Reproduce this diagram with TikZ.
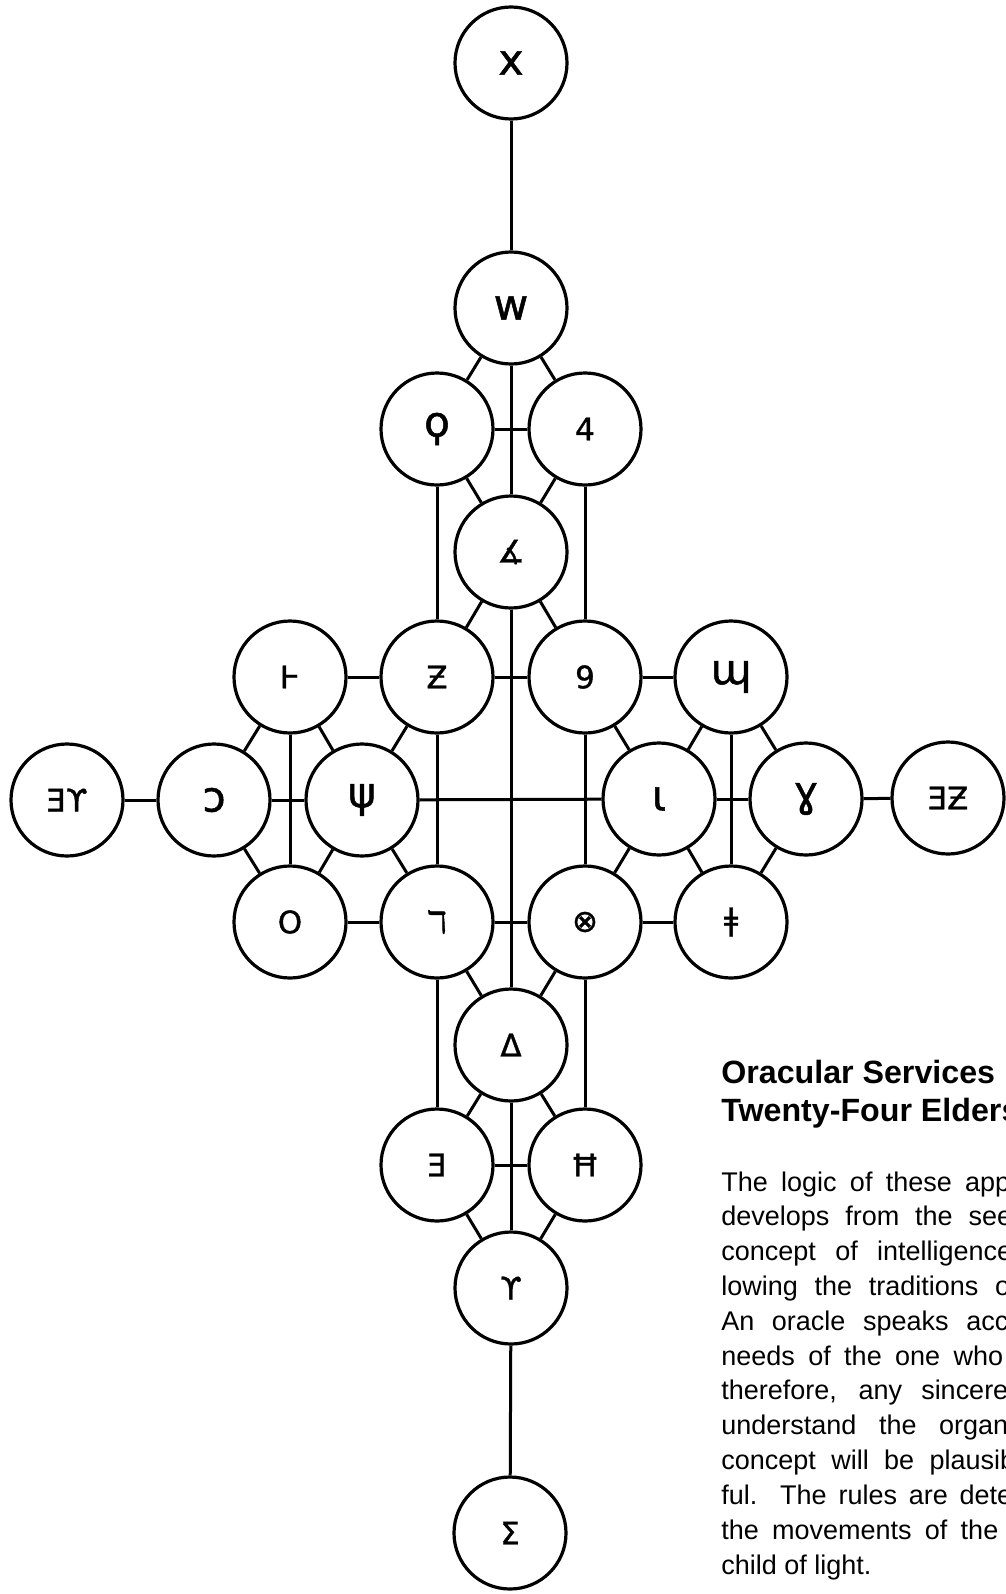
\documentclass[tikz,border=0pt]{standalone}
\usepackage{fontspec}
\newfontfamily\glyphfont{DejaVu Sans}[FakeBold=1.2]
\newfontfamily\arialfont{Liberation Sans}
\newcommand\lc[1]{{\fontsize{30}{32}\selectfont#1}} % small letters drawn larger
\begin{document}
\begin{tikzpicture}[x=0.25mm,y=-0.25mm,
        elder/.style={draw, circle, minimum size=28mm, inner sep=0pt, line width=0.8mm,
            font=\glyphfont\fontsize{22}{24}\selectfont},
        link/.style={line width=0.75mm},
        titletext/.style={anchor=base west, inner sep=0pt, font=\arialfont\bfseries\fontsize{22.9}{26}\selectfont},
        bodytext/.style={anchor=base west, inner sep=0pt, font=\arialfont\fontsize{19.2}{22}\selectfont}]
        \useasboundingbox (0,0) rectangle (1005,1594); % page of the reference

        % the twenty-four circles (name/x/y/letter)
        \foreach \name/\x/\y/\g in {tau/511/63/\lc{x}, shin/511/308/\lc{w},
            qof/437/429/\lc{ϙ}, resh/585/429/4, aleph/511/552/∡,
            tsade/290/677/Ͱ, zayin/437/677/Ƶ, bet/585/677/9, mem/731/677/\lc{ɰ},
            hw/67/800/Ǝϒ, pe/214/800/\lc{ɔ}, kaf/362/800/\lc{ψ}, lamed/659/799/\lc{ɩ},
            nun/806/799/\lc{ɣ}, hz/948/798/ƎƵ,
            ayin/290/922/O, gimel/437/922/ℸ, tet/585/922/⊗, samekh/731/922/ǂ,
            dalet/511/1045/Δ, he/437/1165/Ǝ, het/585/1165/Ħ, waw/511/1288/ϒ, yod/510/1533/Σ}{
            \node[elder] (\name) at (\x,\y) {\g};
        }

        % connectors between neighbouring circles
        \foreach \a/\b in {tau/shin, shin/aleph, aleph/dalet, dalet/waw, waw/yod,   % middle column
            shin/qof, shin/resh, qof/aleph, resh/aleph, qof/resh,
            qof/zayin, resh/bet, aleph/zayin, aleph/bet,
            tsade/zayin, zayin/bet, bet/mem,
            tsade/pe, tsade/kaf, tsade/ayin, pe/ayin, kaf/ayin, hw/pe, pe/kaf,
            kaf/zayin, kaf/gimel, kaf/lamed,
            mem/lamed, mem/nun, mem/samekh, lamed/samekh, nun/samekh, lamed/nun, nun/hz,
            lamed/bet, lamed/tet,
            zayin/gimel, bet/tet, ayin/gimel, gimel/tet, tet/samekh,
            gimel/dalet, tet/dalet, gimel/he, tet/het,
            dalet/he, dalet/het, he/het, he/waw, het/waw}{
            \draw[link] (\a) -- (\b);
        }

        % caption, justified and cut by the right edge of the page
        \node[titletext] (title0) at (721,1083) {Oracular Services};
        \node[titletext] (title1) at (721,1121) {Twenty-Four Elders};
        \foreach \w/\txt [count=\i from 0] in {72.25/The logic of these app, 72.75/develops from the see,
            72.75/concept of intelligence, 72.25/lowing the traditions o, 71.75/An oracle speaks acc,
            70.5/needs of the one who, {71.75/therefore, any sincere}, 71.75/understand the organ,
            73.5/concept will be plausib, 72.75/ful. The rules are dete, 69.25/the movements of the}{
            \node[bodytext] (line\i) at (721,1191+34.8*\i) {\makebox[\w mm][s]{\txt}};
        }
        \node[bodytext] (line11) at (721,1574) {child of light.};
    \end{tikzpicture}
\end{document}
